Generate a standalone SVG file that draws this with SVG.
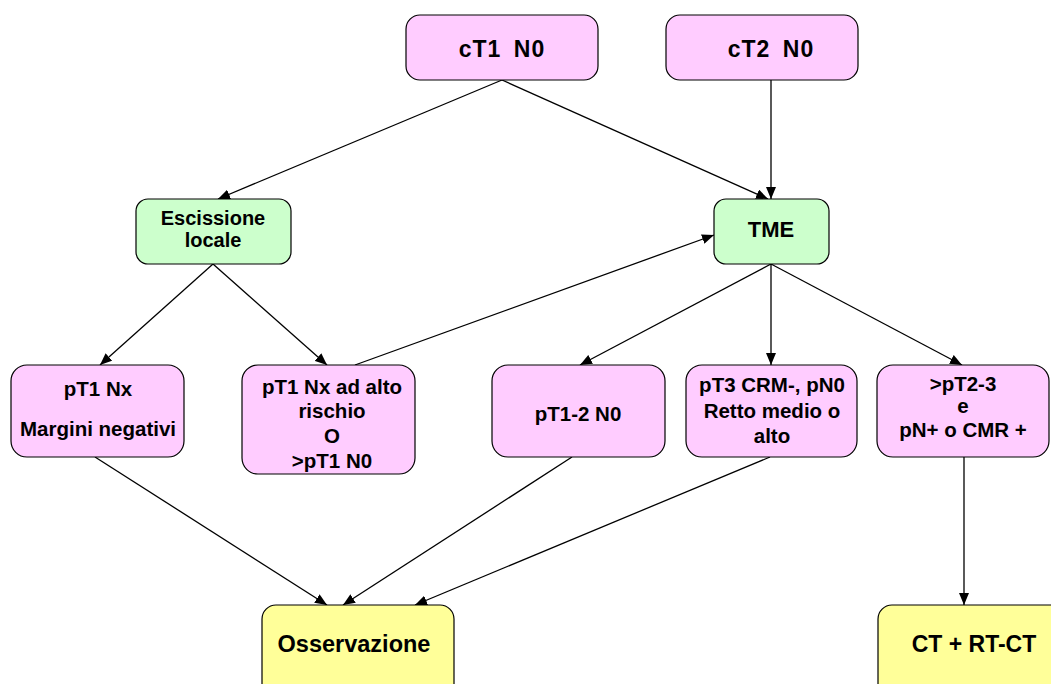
<svg xmlns="http://www.w3.org/2000/svg" width="1051" height="684" viewBox="0 0 1051 684">
<defs>
<marker id="ah" viewBox="0 0 12 10" refX="12" refY="5" markerWidth="12" markerHeight="10" markerUnits="userSpaceOnUse" orient="auto">
<path d="M0,0 L12,5 L0,10 z" fill="#000"/>
</marker>
</defs>
<style>
.box{stroke:#000;stroke-width:1.2}
.pink{fill:#FFCCFF}
.green{fill:#CCFFCC}
.yellow{fill:#FFFF99}
text{font-family:"Liberation Sans",Arial,sans-serif;font-weight:bold;fill:#000;text-anchor:middle}
.s{font-size:20.5px}
.l{font-size:23px}
.e{stroke:#000;stroke-width:1.3;fill:none;marker-end:url(#ah)}
</style>
<rect width="1051" height="684" fill="#fff"/>
<g id="connectors">
<line class="e" x1="502" y1="80" x2="218" y2="199"/>
<line class="e" x1="502" y1="80" x2="768" y2="199"/>
<line class="e" x1="771" y1="80" x2="771" y2="199"/>
<line class="e" x1="213" y1="264" x2="100" y2="365"/>
<line class="e" x1="213" y1="264" x2="327" y2="365"/>
<line class="e" x1="355" y1="365" x2="714" y2="235"/>
<line class="e" x1="771" y1="264" x2="580" y2="365"/>
<line class="e" x1="771" y1="264" x2="771" y2="365"/>
<line class="e" x1="771" y1="264" x2="962" y2="365"/>
<line class="e" x1="95" y1="457" x2="327" y2="605"/>
<line class="e" x1="572" y1="457" x2="343" y2="605"/>
<line class="e" x1="770" y1="457" x2="415" y2="605"/>
<line class="e" x1="964" y1="457" x2="964" y2="605"/>
</g>
<g id="cT1N0"><rect class="box pink" x="406" y="15" width="192" height="65" rx="14"/><text class="l" x="502" y="57" style="word-spacing:5px;letter-spacing:1px">cT1 N0</text></g>
<g id="cT2N0"><rect class="box pink" x="666" y="15" width="192" height="65" rx="14"/><text class="l" x="771" y="57" style="word-spacing:5px;letter-spacing:1px">cT2 N0</text></g>
<g id="escissione"><rect class="box green" x="136" y="199" width="155" height="65" rx="12"/><text class="s" x="213" y="225" style="font-size:20px">Escissione</text><text class="s" x="213" y="247" style="font-size:20px">locale</text></g>
<g id="TME"><rect class="box green" x="714" y="199" width="115" height="65" rx="12"/><text class="l" x="771" y="237" style="font-size:22px">TME</text></g>
<g id="pT1Nx"><rect class="box pink" x="11" y="365" width="173" height="92" rx="16"/><text class="s" x="98" y="396">pT1 Nx</text><text class="s" x="98" y="436">Margini negativi</text></g>
<g id="pT1NxAlto"><rect class="box pink" x="242" y="365" width="173" height="109" rx="16"/><text class="s" x="332" y="394">pT1 Nx ad alto</text><text class="s" x="332" y="418">rischio</text><text class="s" x="332" y="443">O</text><text class="s" x="332" y="468">&gt;pT1 N0</text></g>
<g id="pT12N0"><rect class="box pink" x="492" y="365" width="173" height="92" rx="16"/><text class="s" x="578" y="421">pT1-2 N0</text></g>
<g id="pT3"><rect class="box pink" x="686" y="365" width="171" height="92" rx="16"/><text class="s" x="772" y="392">pT3 CRM-, pN0</text><text class="s" x="772" y="418">Retto medio o</text><text class="s" x="772" y="443">alto</text></g>
<g id="pT23"><rect class="box pink" x="877" y="365" width="172" height="92" rx="16"/><text class="s" x="963" y="391">&gt;pT2-3</text><text class="s" x="963" y="413">e</text><text class="s" x="963" y="437">pN+ o CMR +</text></g>
<g id="osservazione"><rect class="box yellow" x="262" y="605" width="192" height="95" rx="14"/><text class="l" x="354" y="652" style="font-size:23.5px">Osservazione</text></g>
<g id="ctrtct"><rect class="box yellow" x="878" y="605" width="190" height="95" rx="14"/><text class="l" x="974" y="652">CT + RT-CT</text></g>
</svg>
